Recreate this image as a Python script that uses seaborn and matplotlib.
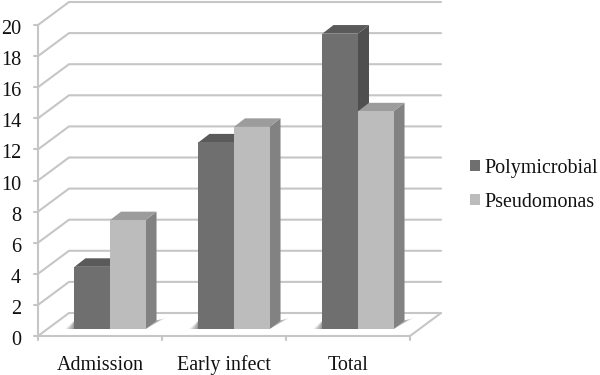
import pandas as pd
import matplotlib.pyplot as plt
import seaborn as sns
from matplotlib.patches import Polygon

categories = ['Admission', 'Early infect', 'Total']
polymicrobial = [4, 12, 19]
pseudomonas = [7, 13, 14]
y_ticks = [0, 2, 4, 6, 8, 10, 12, 14, 16, 18, 20]

sns.set_theme(style='white')
plt.rcParams['font.family'] = ['Liberation Serif', 'DejaVu Serif']

# pixel sizes of the fake 3d box
cat_px = 124.0
unit_px = 15.55
fig = plt.figure(figsize=(6, 3.75), dpi=100)
ax = fig.add_axes([48 / 600, 46 / 375, 3 * cat_px / 600, 20 * unit_px / 375])

df = pd.DataFrame({
    'category': categories * 2,
    'count': polymicrobial + pseudomonas,
    'group': ['Polymicrobial'] * 3 + ['Pseudomonas'] * 3,
})
sns.barplot(data=df, x='category', y='count', hue='group', ax=ax, width=0.573, gap=0,
            palette=['#6f6f6f', '#bcbcbc'], saturation=1, linewidth=0, zorder=5)
ax.set_xlim(-0.5, 2.5)
ax.set_ylim(0, 20)
handles, labels = ax.get_legend_handles_labels()
ax.axis('off')


def px(dx, dy):
    # pixel offset to data offset
    return dx / cat_px, dy / unit_px


grid = '#c6c6c6'
line_w = 1.5
fx, fy = px(-10, -7)   # front plane
bx, by = px(21, 16)    # back wall
x0, x1 = -0.5, 2.5

# walls, floor and ticks
for v in y_ticks:
    ax.plot([x0 + fx, x0 + bx, x1 + bx], [v + fy, v + by, v + by], color=grid, lw=line_w,
            clip_on=False, zorder=1, solid_joinstyle='miter')
    ax.plot([x0 + fx - 4 / cat_px, x0 + fx], [v + fy, v + fy], color=grid, lw=line_w,
            clip_on=False, zorder=1)
    ax.text(x0 + fx - 17 / cat_px, v + fy - 4.5 / unit_px, str(v), ha='right', va='center',
            fontsize=14.6, color='#111111', clip_on=False)
ax.plot([x0 + fx, x0 + fx], [fy, 20 + fy], color=grid, lw=line_w, clip_on=False, zorder=1)
ax.plot([x0 + fx, x1 + fx, x1 + bx], [fy, fy, by], color=grid, lw=line_w, clip_on=False, zorder=1)
for i in range(4):
    xt = x0 + i + fx
    ax.plot([xt, xt], [fy, fy - 4 / unit_px], color=grid, lw=line_w, clip_on=False, zorder=1)

for i, name in enumerate(categories):
    ax.text(i + fx, fy - 29 / unit_px, name, ha='center', va='center', fontsize=14.4,
            color='#111111', clip_on=False)

# depth faces of the bars
sx, sy = px(11, 8.5)
side_colors = ['#4f4f4f', '#828282']
top_colors = ['#5a5a5a', '#9c9c9c']
for k, container in enumerate(ax.containers):
    for bar in container:
        l = bar.get_x()
        r = l + bar.get_width()
        h = bar.get_height()
        ax.add_patch(Polygon([(r, 0), (r + sx, sy), (r + sx, h + sy), (r, h)],
                             fc=side_colors[k], ec='none', clip_on=False, zorder=3 + k * 0.5))
        ax.add_patch(Polygon([(l, h), (l + sx, h + sy), (r + sx, h + sy), (r, h)],
                             fc=top_colors[k], ec='none', clip_on=False, zorder=3 + k * 0.5))

# soft floor shadow behind each pair of bars
for a, b in zip(ax.containers[0], ax.containers[1]):
    l = a.get_x()
    r = b.get_x() + b.get_width()
    for grow, alpha in [(1.0, 0.18), (0.75, 0.25), (0.5, 0.3), (0.25, 0.3)]:
        ax.add_patch(Polygon([(l - 9 * grow / cat_px, 0), (r, 0),
                              (r + (11 + 9 * grow) / cat_px, (8.5 + 2.5 * grow) / unit_px),
                              (r + sx, sy), (l, sy)],
                             fc='#777777', ec='none', alpha=alpha, clip_on=False, zorder=2))

leg = ax.legend(handles, labels, loc='center left', bbox_to_anchor=(470 / 600, 1 - 185 / 375),
                bbox_transform=fig.transFigure, frameon=False, fontsize=14.4, handlelength=0.5,
                handleheight=0.5, handletextpad=0.2, labelspacing=0.75, borderpad=0,
                borderaxespad=0)
for t in leg.get_texts():
    t.set_color('#111111')

fig.savefig('out.png', dpi=100)
